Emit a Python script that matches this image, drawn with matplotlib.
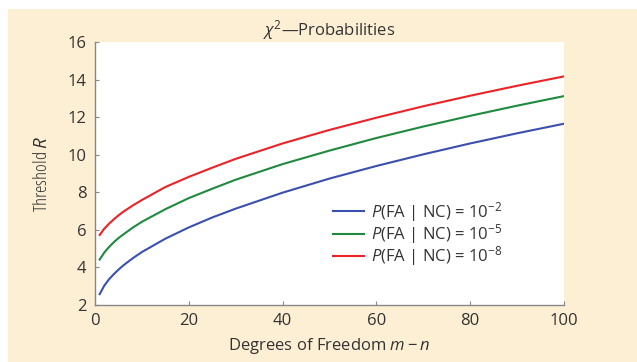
import matplotlib
matplotlib.use('Agg')
import matplotlib.pyplot as plt
import matplotlib.patches as mpatches

# degrees of freedom and threshold values
dof = [1, 2, 3, 4, 5, 6, 8, 10, 15, 20, 25, 30, 40, 50, 60, 70, 80, 90, 100]
r_1e2 = [2.58, 3.04, 3.37, 3.64, 3.88, 4.10, 4.48, 4.82, 5.53, 6.13, 6.66, 7.13,
         7.98, 8.73, 9.40, 10.02, 10.60, 11.14, 11.65]
r_1e5 = [4.42, 4.80, 5.09, 5.34, 5.56, 5.75, 6.11, 6.43, 7.10, 7.69, 8.19, 8.67,
         9.50, 10.22, 10.89, 11.50, 12.07, 12.61, 13.12]
r_1e8 = [5.73, 6.07, 6.33, 6.56, 6.77, 6.96, 7.29, 7.59, 8.28, 8.82, 9.31, 9.78,
         10.60, 11.32, 11.97, 12.58, 13.14, 13.67, 14.17]
labels = ['$P$(FA | NC) = 10$^{-2}$', '$P$(FA | NC) = 10$^{-5}$', '$P$(FA | NC) = 10$^{-8}$']
colors = ['#3a4fae', '#1f8a3e', '#ec2227']

BG = '#fdefd3'
TXT = '#333333'

plt.rcParams['font.family'] = ['Open Sans', 'DejaVu Sans']
plt.rcParams['mathtext.fontset'] = 'custom'
plt.rcParams['mathtext.rm'] = 'Open Sans'
plt.rcParams['mathtext.it'] = 'Open Sans:italic'
plt.rcParams['mathtext.bf'] = 'Open Sans:bold'
plt.rcParams['mathtext.fallback'] = 'stixsans'

fig = plt.figure(figsize=(6.37, 3.62), dpi=100)
fig.patch.set_facecolor('white')
fig.patches.append(mpatches.Rectangle((8 / 637, 0), 1, (362 - 9) / 362,
                                      transform=fig.transFigure, facecolor=BG,
                                      edgecolor='none', zorder=-1))

ax = fig.add_axes([95 / 637, 1 - 305 / 362, (564 - 95) / 637, (305 - 42) / 362])
ax.set_facecolor('white')

for ys, c, lab in zip([r_1e2, r_1e5, r_1e8], colors, labels):
    ax.plot(dof, ys, color=c, lw=1.5, label=lab)

ax.set_xlim(0, 100)
ax.set_ylim(2, 16)
ax.set_xticks([0, 20, 40, 60, 80, 100])
ax.set_yticks([2, 4, 6, 8, 10, 12, 14, 16])
ax.tick_params(direction='in', length=3, width=0.8, color='#888888',
               labelcolor=TXT, labelsize=12, pad=6)

for side in ['top', 'right']:
    ax.spines[side].set_visible(False)
for side in ['left', 'bottom']:
    ax.spines[side].set_color('#888888')
    ax.spines[side].set_linewidth(1.0)

ax.set_xlabel('Degrees of Freedom $m - n$', color=TXT, fontsize=12, labelpad=5)
ax.set_ylabel('Threshold $R$', color=TXT, fontsize=13.5, fontstretch='condensed',
              labelpad=12)
ax.set_title('$\\chi^2$\u2014Probabilities', color=TXT, fontsize=12, pad=5)

leg = ax.legend(loc='upper left', bbox_to_anchor=(0.507, 0.40), frameon=False,
                fontsize=12, handlelength=1.9, handletextpad=0.4,
                labelspacing=-0.1, borderpad=0, borderaxespad=0, labelcolor=TXT)

fig.savefig('out.png', dpi=100, facecolor='white')
